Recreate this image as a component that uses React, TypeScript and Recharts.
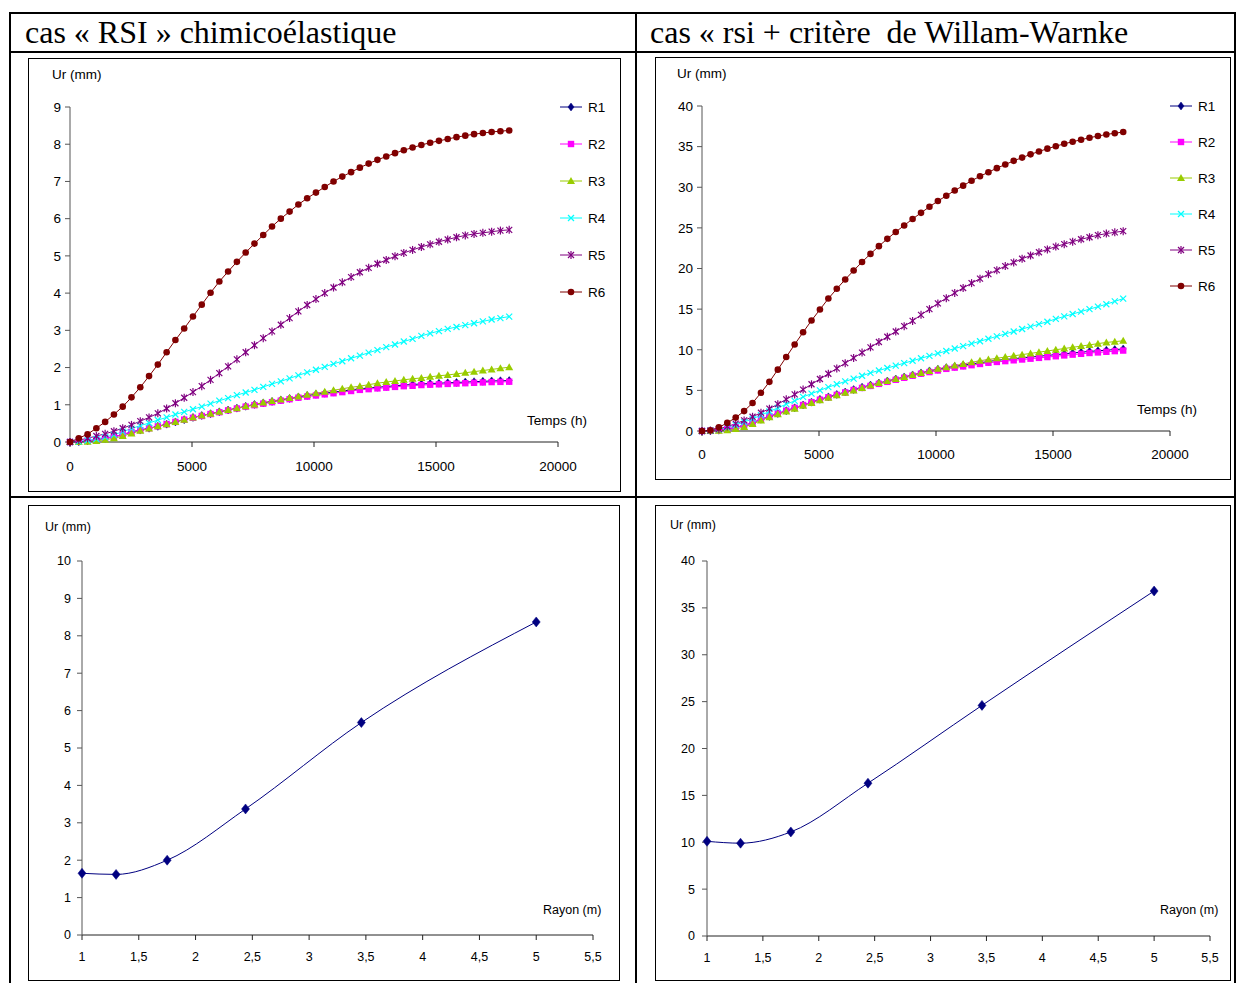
import React from 'react'
import { LineChart, Line, XAxis, YAxis } from 'recharts'

// temps de calcul (h)
const temps = [0, 360, 720, 1080, 1440, 1800, 2160, 2520, 2880, 3240, 3600, 3960, 4320, 4680, 5040, 5400, 5760, 6120, 6480, 6840, 7200, 7560, 7920, 8280, 8640, 9000, 9360, 9720, 10080, 10440, 10800, 11160, 11520, 11880, 12240, 12600, 12960, 13320, 13680, 14040, 14400, 14760, 15120, 15480, 15840, 16200, 16560, 16920, 17280, 17640, 18000]

// cas RSI chimicoelastique
const rsiR1 = [0, 0.01, 0.03, 0.06, 0.1, 0.14, 0.2, 0.27, 0.32, 0.37, 0.42, 0.48, 0.54, 0.6, 0.66, 0.71, 0.76, 0.81, 0.86, 0.91, 0.96, 1.01, 1.05, 1.09, 1.13, 1.17, 1.21, 1.25, 1.28, 1.31, 1.34, 1.37, 1.4, 1.43, 1.45, 1.47, 1.49, 1.51, 1.53, 1.545, 1.56, 1.57, 1.58, 1.59, 1.6, 1.61, 1.62, 1.63, 1.64, 1.645, 1.65]
const rsiR2 = [0, 0.01, 0.03, 0.06, 0.1, 0.14, 0.2, 0.27, 0.32, 0.37, 0.42, 0.48, 0.54, 0.6, 0.65, 0.7, 0.75, 0.8, 0.85, 0.9, 0.95, 0.99, 1.03, 1.07, 1.11, 1.15, 1.19, 1.22, 1.25, 1.28, 1.31, 1.34, 1.37, 1.4, 1.42, 1.44, 1.46, 1.48, 1.5, 1.51, 1.53, 1.54, 1.55, 1.56, 1.57, 1.58, 1.59, 1.6, 1.61, 1.615, 1.62]
const rsiR3 = [0, 0, 0.01, 0.03, 0.06, 0.1, 0.16, 0.23, 0.3, 0.36, 0.42, 0.48, 0.54, 0.6, 0.66, 0.71, 0.76, 0.81, 0.86, 0.91, 0.96, 1.01, 1.06, 1.1, 1.14, 1.18, 1.22, 1.27, 1.31, 1.35, 1.39, 1.43, 1.47, 1.5, 1.54, 1.58, 1.61, 1.64, 1.67, 1.7, 1.72, 1.75, 1.78, 1.8, 1.83, 1.86, 1.89, 1.92, 1.95, 1.98, 2.01]
const rsiR4 = [0, 0.01, 0.04, 0.08, 0.13, 0.19, 0.28, 0.36, 0.44, 0.51, 0.59, 0.66, 0.74, 0.81, 0.88, 0.95, 1.03, 1.11, 1.18, 1.26, 1.33, 1.4, 1.48, 1.56, 1.63, 1.71, 1.79, 1.87, 1.94, 2.02, 2.1, 2.17, 2.25, 2.32, 2.4, 2.47, 2.55, 2.62, 2.7, 2.77, 2.85, 2.92, 2.98, 3.04, 3.09, 3.14, 3.19, 3.24, 3.29, 3.33, 3.37]
const rsiR5 = [0, 0.05, 0.1, 0.16, 0.22, 0.29, 0.37, 0.46, 0.56, 0.66, 0.77, 0.9, 1.04, 1.19, 1.34, 1.5, 1.67, 1.85, 2.03, 2.22, 2.41, 2.6, 2.79, 2.97, 3.15, 3.33, 3.51, 3.68, 3.84, 4.0, 4.15, 4.29, 4.43, 4.56, 4.68, 4.79, 4.89, 4.99, 5.08, 5.16, 5.24, 5.31, 5.38, 5.44, 5.5, 5.55, 5.59, 5.62, 5.65, 5.68, 5.7]
const rsiR6 = [0, 0.1, 0.21, 0.37, 0.54, 0.74, 0.95, 1.2, 1.47, 1.77, 2.08, 2.41, 2.74, 3.05, 3.37, 3.69, 4.01, 4.31, 4.58, 4.84, 5.09, 5.33, 5.56, 5.79, 6.0, 6.19, 6.38, 6.55, 6.7, 6.85, 7.0, 7.13, 7.25, 7.37, 7.48, 7.58, 7.67, 7.76, 7.84, 7.91, 7.98, 8.04, 8.09, 8.14, 8.19, 8.23, 8.27, 8.3, 8.33, 8.35, 8.37]

// cas rsi + critere de Willam-Warnke
const wwR1 = [0, 0.02, 0.1, 0.25, 0.45, 0.7, 1.0, 1.45, 1.8, 2.15, 2.5, 2.85, 3.2, 3.55, 3.9, 4.2, 4.5, 4.8, 5.1, 5.4, 5.65, 5.9, 6.15, 6.4, 6.65, 6.9, 7.15, 7.4, 7.6, 7.8, 7.95, 8.1, 8.25, 8.4, 8.55, 8.7, 8.8, 8.9, 9.0, 9.1, 9.2, 9.3, 9.4, 9.5, 9.6, 9.7, 9.8, 9.87, 9.95, 10.02, 10.1]
const wwR2 = [0, 0.02, 0.1, 0.25, 0.45, 0.7, 1.0, 1.45, 1.8, 2.15, 2.5, 2.85, 3.2, 3.55, 3.85, 4.15, 4.45, 4.75, 5.05, 5.3, 5.55, 5.8, 6.05, 6.3, 6.55, 6.8, 7.05, 7.25, 7.45, 7.65, 7.8, 7.95, 8.1, 8.25, 8.4, 8.5, 8.6, 8.7, 8.8, 8.9, 9.0, 9.1, 9.2, 9.3, 9.4, 9.5, 9.6, 9.67, 9.75, 9.83, 9.9]
const wwR3 = [0, 0, 0.02, 0.1, 0.25, 0.5, 0.85, 1.3, 1.7, 2.05, 2.4, 2.75, 3.1, 3.45, 3.8, 4.1, 4.4, 4.7, 5.0, 5.3, 5.6, 5.9, 6.15, 6.4, 6.65, 6.9, 7.15, 7.4, 7.65, 7.85, 8.05, 8.25, 8.45, 8.65, 8.8, 8.95, 9.1, 9.25, 9.4, 9.55, 9.7, 9.85, 10.0, 10.15, 10.3, 10.45, 10.6, 10.75, 10.9, 11.0, 11.1]
const wwR4 = [0, 0.05, 0.2, 0.45, 0.75, 1.1, 1.5, 1.95, 2.4, 2.85, 3.3, 3.7, 4.2, 4.6, 5.0, 5.4, 5.75, 6.1, 6.45, 6.8, 7.15, 7.45, 7.75, 8.05, 8.35, 8.65, 8.95, 9.25, 9.55, 9.85, 10.15, 10.45, 10.75, 11.05, 11.35, 11.65, 11.95, 12.25, 12.55, 12.85, 13.15, 13.45, 13.8, 14.1, 14.4, 14.7, 15.0, 15.3, 15.6, 15.95, 16.3]
const wwR5 = [0, 0.05, 0.25, 0.55, 0.9, 1.3, 1.75, 2.25, 2.75, 3.3, 3.9, 4.5, 5.1, 5.75, 6.4, 7.05, 7.7, 8.35, 9.0, 9.65, 10.3, 10.95, 11.6, 12.25, 12.9, 13.55, 14.3, 15.0, 15.7, 16.35, 17.0, 17.6, 18.2, 18.75, 19.3, 19.8, 20.3, 20.75, 21.2, 21.6, 22.0, 22.35, 22.7, 23.0, 23.3, 23.6, 23.85, 24.1, 24.3, 24.45, 24.6]
const wwR6 = [0, 0.1, 0.45, 1.0, 1.65, 2.45, 3.45, 4.7, 6.05, 7.55, 9.1, 10.65, 12.15, 13.6, 14.95, 16.3, 17.5, 18.65, 19.75, 20.8, 21.8, 22.75, 23.65, 24.5, 25.3, 26.1, 26.85, 27.6, 28.3, 28.95, 29.6, 30.2, 30.8, 31.35, 31.85, 32.35, 32.8, 33.25, 33.65, 34.05, 34.4, 34.75, 35.05, 35.35, 35.6, 35.85, 36.1, 36.3, 36.5, 36.65, 36.8]

// Ur final en fonction du rayon
const rayons = [1, 1.3, 1.75, 2.44, 3.46, 5]
const urRsi = [1.65, 1.62, 2.0, 3.37, 5.68, 8.37]
const urWw = [10.1, 9.9, 11.1, 16.3, 24.6, 36.8]

const series = [
    { key: 'R1', color: '#000080', shape: 'diamond' },
    { key: 'R2', color: '#FF00FF', shape: 'square' },
    { key: 'R3', color: '#99CC00', shape: 'triangle' },
    { key: 'R4', color: '#00FFFF', shape: 'cross' },
    { key: 'R5', color: '#800080', shape: 'star' },
    { key: 'R6', color: '#800000', shape: 'circle' },
]

const rsiData = temps.map((t, i) => ({
    t, R1: rsiR1[i], R2: rsiR2[i], R3: rsiR3[i], R4: rsiR4[i], R5: rsiR5[i], R6: rsiR6[i],
}))
const wwData = temps.map((t, i) => ({
    t, R1: wwR1[i], R2: wwR2[i], R3: wwR3[i], R4: wwR4[i], R5: wwR5[i], R6: wwR6[i],
}))
const rsiRayon = rayons.map((r, i) => ({ r, ur: urRsi[i] }))
const wwRayon = rayons.map((r, i) => ({ r, ur: urWw[i] }))

const SANS = '"Liberation Sans", Arial, sans-serif'
const SERIF = '"Liberation Serif", "Times New Roman", serif'

function Marker({ cx, cy, shape, color, big }: any) {
    const s = big ? 4 : 3
    switch (shape) {
        case 'diamond':
            return <polygon points={`${cx},${cy - s - 1} ${cx + s},${cy} ${cx},${cy + s + 1} ${cx - s},${cy}`} fill={color} stroke={color} strokeWidth={0.5} />
        case 'square':
            return <rect x={cx - 3.2} y={cy - 3.2} width={6.4} height={6.4} fill={color} />
        case 'triangle':
            return <polygon points={`${cx},${cy - 4} ${cx + 4},${cy + 3} ${cx - 4},${cy + 3}`} fill={color} />
        case 'cross':
            return (
                <g stroke={color} strokeWidth={1.2}>
                    <line x1={cx - 3} y1={cy - 3} x2={cx + 3} y2={cy + 3} />
                    <line x1={cx - 3} y1={cy + 3} x2={cx + 3} y2={cy - 3} />
                </g>
            )
        case 'star':
            return (
                <g stroke={color} strokeWidth={1.2}>
                    <line x1={cx - 3} y1={cy - 3} x2={cx + 3} y2={cy + 3} />
                    <line x1={cx - 3} y1={cy + 3} x2={cx + 3} y2={cy - 3} />
                    <line x1={cx} y1={cy - 4} x2={cx} y2={cy + 4} />
                </g>
            )
        default:
            return <circle cx={cx} cy={cy} r={3.3} fill={color} />
    }
}

const dotFor = (shape: string, color: string, big = false) => (props: any) => {
    const { cx, cy, index } = props
    if (cx == null || cy == null) return <g key={`d-${index}`} />
    return (
        <g key={`d-${index}`}>
            <Marker cx={cx} cy={cy} shape={shape} color={color} big={big} />
        </g>
    )
}

function Txt({ left, cy, size = 13.5, children }: any) {
    return (
        <div style={{ position: 'absolute', left, top: cy - 8, lineHeight: '16px', fontSize: size, fontFamily: SANS, whiteSpace: 'nowrap', color: '#000' }}>
            {children}
        </div>
    )
}

function LegendBlock({ left, top, gap }: any) {
    return (
        <>
            {series.map((s, i) => (
                <div key={s.key} style={{ position: 'absolute', left, top: top + i * gap - 8, height: 16, display: 'flex', alignItems: 'center', fontFamily: SANS, fontSize: 13.5 }}>
                    <svg width={24} height={12} style={{ display: 'block' }}>
                        <line x1={0} y1={6} x2={22} y2={6} stroke={s.color} strokeWidth={1} />
                        <Marker cx={11} cy={6} shape={s.shape} color={s.color} />
                    </svg>
                    <span style={{ marginLeft: 4 }}>{s.key}</span>
                </div>
            ))}
        </>
    )
}

function Frame({ left, top, width, height, children }: any) {
    return (
        <div style={{ position: 'absolute', left, top, width, height }}>
            <div style={{ position: 'absolute', inset: 0, border: '1px solid #000', boxSizing: 'border-box' }} />
            <div style={{ position: 'absolute', left: 0, top: 0 }}>{children}</div>
        </div>
    )
}

const YW = 36
const XH = 30

function TimeChart({ data, w, h, pl, pr, pt, pb, yMax, yTicks, xMargin }: any) {
    return (
        <LineChart width={w} height={h} data={data} margin={{ top: pt, right: pr, left: pl - YW, bottom: pb - XH }}>
            <XAxis
                dataKey="t"
                type="number"
                domain={[0, 20000]}
                ticks={[0, 5000, 10000, 15000, 20000]}
                interval={0}
                height={XH}
                stroke="#222"
                tickSize={5}
                tickMargin={xMargin}
                tick={{ fill: '#000', fontSize: 13.5, fontFamily: SANS }}
            />
            <YAxis
                type="number"
                domain={[0, yMax]}
                ticks={yTicks}
                interval={0}
                width={YW}
                stroke="#555"
                tickSize={5}
                tickMargin={4}
                tick={{ fill: '#000', fontSize: 13.5, fontFamily: SANS }}
            />
            {series.map((s) => (
                <Line
                    key={s.key}
                    type="linear"
                    dataKey={s.key}
                    stroke={s.color}
                    strokeWidth={1}
                    dot={dotFor(s.shape, s.color)}
                    activeDot={false}
                    isAnimationActive={false}
                />
            ))}
        </LineChart>
    )
}

const fmtComma = (v: number) => String(v).replace('.', ',')

function RayonChart({ data, w, h, pl, pr, pt, pb, yMax, yTicks, xMargin, yMargin }: any) {
    return (
        <LineChart width={w} height={h} data={data} margin={{ top: pt, right: pr, left: pl - YW, bottom: pb - XH }}>
            <XAxis
                dataKey="r"
                type="number"
                domain={[1, 5.5]}
                ticks={[1, 1.5, 2, 2.5, 3, 3.5, 4, 4.5, 5, 5.5]}
                interval={0}
                height={XH}
                stroke="#222"
                tickSize={5}
                tickMargin={xMargin}
                tickFormatter={fmtComma}
                tick={{ fill: '#000', fontSize: 12.5, fontFamily: SANS }}
            />
            <YAxis
                type="number"
                domain={[0, yMax]}
                ticks={yTicks}
                interval={0}
                width={YW}
                stroke="#555"
                tickSize={5}
                tickMargin={yMargin}
                tick={{ fill: '#000', fontSize: 12.5, fontFamily: SANS }}
            />
            <Line
                type="monotone"
                dataKey="ur"
                stroke="#000080"
                strokeWidth={1}
                dot={dotFor('diamond', '#000080', true)}
                activeDot={false}
                isAnimationActive={false}
            />
        </LineChart>
    )
}

function Rule({ left, top, width, height }: any) {
    return <div style={{ position: 'absolute', left, top, width, height, background: '#000' }} />
}

export default function App() {
    return (
        <div style={{ position: 'absolute', left: 0, top: 0, width: 1236, height: 983, background: '#fff', overflow: 'hidden' }}>
            {/* tableau */}
            <Rule left={9} top={12} width={1227} height={2} />
            <Rule left={9} top={51} width={1227} height={2} />
            <Rule left={9} top={496} width={1227} height={2} />
            <Rule left={9} top={12} width={2} height={971} />
            <Rule left={635} top={12} width={2} height={971} />
            <Rule left={1234} top={12} width={2} height={971} />

            <div style={{ position: 'absolute', left: 25, top: 14, height: 37, lineHeight: '37px', fontFamily: SERIF, fontSize: 32, whiteSpace: 'pre' }}>
                cas « RSI » chimicoélastique
            </div>
            <div style={{ position: 'absolute', left: 650, top: 14, height: 37, lineHeight: '37px', fontFamily: SERIF, fontSize: 32, whiteSpace: 'pre' }}>
                {'cas « rsi + critère  de Willam-Warnke'}
            </div>

            <Frame left={28} top={58} width={593} height={434}>
                <TimeChart data={rsiData} w={593} h={434} pl={42} pr={63} pt={49} pb={50} yMax={9} yTicks={[0, 1, 2, 3, 4, 5, 6, 7, 8, 9]} xMargin={14} />
            </Frame>
            <Txt left={52} cy={75}>Ur (mm)</Txt>
            <Txt left={527} cy={421}>Temps (h)</Txt>
            <LegendBlock left={560} top={107} gap={37} />

            <Frame left={655} top={57} width={576} height={423}>
                <TimeChart data={wwData} w={576} h={423} pl={47} pr={61} pt={49} pb={49} yMax={40} yTicks={[0, 5, 10, 15, 20, 25, 30, 35, 40]} xMargin={13} />
            </Frame>
            <Txt left={677} cy={74}>Ur (mm)</Txt>
            <Txt left={1137} cy={410}>Temps (h)</Txt>
            <LegendBlock left={1170} top={106} gap={36} />

            <Frame left={28} top={505} width={592} height={476}>
                <RayonChart data={rsiRayon} w={592} h={476} pl={54} pr={27} pt={56} pb={46} yMax={10} yTicks={[0, 1, 2, 3, 4, 5, 6, 7, 8, 9, 10]} xMargin={12} yMargin={6} />
            </Frame>
            <Txt left={45} cy={527} size={12.5}>Ur (mm)</Txt>
            <Txt left={543} cy={910} size={12.5}>Rayon (m)</Txt>

            <Frame left={655} top={505} width={576} height={476}>
                <RayonChart data={wwRayon} w={576} h={476} pl={52} pr={21} pt={56} pb={45} yMax={40} yTicks={[0, 5, 10, 15, 20, 25, 30, 35, 40]} xMargin={12} yMargin={7} />
            </Frame>
            <Txt left={670} cy={525} size={12.5}>Ur (mm)</Txt>
            <Txt left={1160} cy={910} size={12.5}>Rayon (m)</Txt>
        </div>
    )
}
